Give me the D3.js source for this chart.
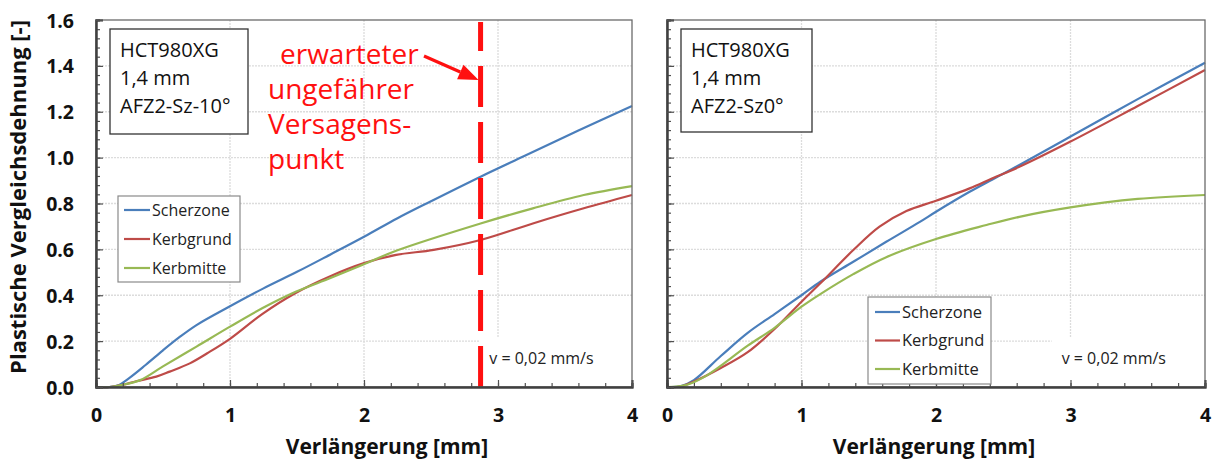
<!DOCTYPE html>
<html>
<head>
<meta charset="utf-8">
<script src="https://cdn.jsdelivr.net/npm/d3@7"></script>
<style>
  body { margin: 0; background: #fff; }
  svg { display: block; font-family: "Open Sans", "Noto Sans", sans-serif; }
</style>
</head>
<body>
<svg id="chart" width="1216" height="459"></svg>
<script>
// Elongation (mm) / equivalent plastic strain pairs per measuring zone
const leftScherzone = [[0,0],[0.1,0],[0.16,0.006],[0.25,0.04],[0.37,0.096],[0.5,0.16],[0.62,0.216],[0.75,0.27],[1.0,0.352],[1.25,0.43],[1.5,0.502],[1.75,0.578],[2.0,0.655],[2.25,0.736],[2.5,0.81],[2.87,0.917],[3.2,1.008],[3.6,1.118],[4.0,1.225]];
const leftKerbgrund = [[0,0],[0.1,0],[0.2,0.01],[0.3,0.025],[0.45,0.045],[0.55,0.067],[0.7,0.103],[0.83,0.147],[1.0,0.21],[1.24,0.318],[1.49,0.41],[1.74,0.481],[2.0,0.54],[2.24,0.576],[2.52,0.598],[2.87,0.641],[3.26,0.713],[3.64,0.779],[4.0,0.837]];
const leftKerbmitte = [[0,0],[0.1,0],[0.2,0.01],[0.33,0.03],[0.5,0.09],[0.75,0.176],[1.0,0.263],[1.24,0.343],[1.49,0.415],[1.75,0.475],[2.0,0.535],[2.24,0.594],[2.87,0.713],[3.26,0.779],[3.64,0.837],[4.0,0.876]];

const rightScherzone = [[0,0],[0.1,0.003],[0.2,0.03],[0.4,0.135],[0.6,0.236],[0.8,0.318],[1.0,0.4],[1.14,0.459],[1.385,0.546],[1.63,0.633],[1.88,0.72],[2.0,0.764],[2.25,0.851],[2.42,0.905],[2.62,0.968],[3.0,1.092],[3.5,1.255],[4.0,1.414]];
const rightKerbgrund = [[0,0],[0.1,0.002],[0.2,0.024],[0.4,0.083],[0.6,0.152],[0.8,0.253],[1.0,0.372],[1.14,0.452],[1.385,0.597],[1.58,0.699],[1.78,0.767],[2.0,0.812],[2.25,0.866],[2.42,0.91],[2.62,0.96],[3.0,1.07],[3.5,1.225],[4.0,1.382]];
const rightKerbmitte = [[0,0],[0.15,0.01],[0.3,0.052],[0.6,0.18],[0.8,0.258],[1.0,0.35],[1.14,0.405],[1.385,0.492],[1.63,0.566],[2.0,0.645],[2.375,0.706],[2.62,0.742],[3.0,0.783],[3.5,0.82],[4.0,0.837]];

const seriesNames = ["Scherzone", "Kerbgrund", "Kerbmitte"];
const seriesColors = ["#4A7EBB", "#BE4B48", "#98B954"];
const xTicks = [0, 1, 2, 3, 4];
const yTicks = [0, 0.2, 0.4, 0.6, 0.8, 1.0, 1.2, 1.4, 1.6];
const leftInfo = ["HCT980XG", "1,4 mm", "AFZ2-Sz-10°"];
const rightInfo = ["HCT980XG", "1,4 mm", "AFZ2-Sz0°"];
const speedLabel = "v = 0,02 mm/s";
const failureX = 2.87;
const failureText = ["erwarteter", "ungefährer", "Versagens-", "punkt"];

const svg = d3.select("#chart");

function drawPanel(opt) {
  const x = d3.scaleLinear().domain([0, 4]).range([opt.left, opt.right]);
  const y = d3.scaleLinear().domain([0, 1.6]).range([opt.bottom, opt.top]);
  const g = svg.append("g");

  // grid
  g.append("g").selectAll("line").data(xTicks.slice(1, -1)).join("line")
    .attr("x1", d => x(d)).attr("x2", d => x(d))
    .attr("y1", opt.top).attr("y2", opt.bottom)
    .attr("stroke", "#dcdcdc").attr("stroke-width", 1.3).attr("stroke-dasharray", "2 1");
  g.append("g").selectAll("line").data(yTicks.slice(1, -1)).join("line")
    .attr("x1", opt.left).attr("x2", opt.right)
    .attr("y1", d => y(d)).attr("y2", d => y(d))
    .attr("stroke", "#dcdcdc").attr("stroke-width", 1.3).attr("stroke-dasharray", "2 1");

  // white patch behind the speed note
  const noteX = x(opt.noteX);
  g.append("rect").attr("x", noteX).attr("y", y(0.215))
    .attr("width", opt.right - noteX).attr("height", opt.bottom - y(0.215))
    .attr("fill", "#fff");

  // curves
  const line = d3.line().x(d => x(d[0])).y(d => Math.min(y(d[1]), opt.bottom))
    .curve(d3.curveCatmullRom.alpha(0.5));
  opt.series.forEach((s, i) => {
    g.append("path").datum(s).attr("d", line)
      .attr("fill", "none").attr("stroke", seriesColors[i]).attr("stroke-width", 2.2);
  });

  if (opt.extra) opt.extra(g, x, y);

  // speed note
  g.append("text").attr("x", x(opt.noteX) + opt.notePad).attr("y", y(0.1))
    .attr("font-size", 16).attr("fill", "#222").text(speedLabel);

  // frame
  g.append("rect").attr("x", opt.left).attr("y", opt.top)
    .attr("width", opt.right - opt.left).attr("height", opt.bottom - opt.top)
    .attr("fill", "none").attr("stroke", "#6a6a6a").attr("stroke-width", 1.3);

  // axes with inward ticks
  const xMinor = d3.range(0, 4.001, 0.2);
  const yMinor = d3.range(0, 1.6001, 0.04);
  const xAxis = d3.axisBottom(x).tickValues(xMinor).tickSize(-4).tickFormat("");
  const xAxisMaj = d3.axisBottom(x).tickValues(xTicks).tickSize(-7).tickPadding(21)
    .tickFormat(d3.format("d"));
  const yAxis = d3.axisLeft(y).tickValues(yMinor).tickSize(-4).tickFormat("");
  const yAxisMaj = d3.axisLeft(y).tickValues(yTicks).tickSize(-7).tickPadding(opt.showY ? 22 : 0)
    .tickFormat(opt.showY ? d3.format(".1f") : "");

  [xAxis, xAxisMaj].forEach(a => {
    const ax = g.append("g").attr("transform", `translate(0,${opt.bottom})`).call(a);
    ax.select(".domain").attr("stroke", "#404040").attr("stroke-width", 2);
    ax.selectAll(".tick line").attr("stroke", "#505050").attr("stroke-width", 1.2);
    ax.selectAll("text").attr("font-size", 19.5).attr("font-weight", 700)
      .attr("fill", "#111").attr("font-family", "Open Sans, sans-serif");
  });
  [yAxis, yAxisMaj].forEach(a => {
    const ax = g.append("g").attr("transform", `translate(${opt.left},0)`).call(a);
    ax.select(".domain").attr("stroke", "#404040").attr("stroke-width", 2);
    ax.selectAll(".tick line").attr("stroke", "#505050").attr("stroke-width", 1.2);
    ax.selectAll("text").attr("font-size", 19.5).attr("font-weight", 700)
      .attr("fill", "#111").attr("font-family", "Open Sans, sans-serif")
      .attr("dy", "0.36em");
  });

  // x axis title
  g.append("text").attr("x", opt.xTitleX).attr("y", 454)
    .attr("text-anchor", "middle").attr("font-size", 21).attr("font-weight", 700)
    .attr("fill", "#111").text("Verlängerung [mm]");

  // info box
  const ib = opt.infoBox;
  g.append("rect").attr("x", ib.x).attr("y", ib.y).attr("width", ib.w).attr("height", ib.h)
    .attr("fill", "#fff").attr("stroke", "#333").attr("stroke-width", 1.3);
  opt.info.forEach((t, i) => {
    g.append("text").attr("x", ib.x + 10).attr("y", ib.y + 28 + i * 28)
      .attr("font-size", 20).attr("fill", "#111").text(t);
  });

  // legend
  const lg = opt.legend;
  g.append("rect").attr("x", lg.x).attr("y", lg.y).attr("width", lg.w).attr("height", lg.h)
    .attr("fill", "#fff").attr("stroke", "#8a8a8a").attr("stroke-width", 1.2);
  seriesNames.forEach((n, i) => {
    const cy = lg.y + lg.first + i * lg.step;
    g.append("line").attr("x1", lg.x + lg.lx0).attr("x2", lg.x + lg.lx1)
      .attr("y1", cy).attr("y2", cy)
      .attr("stroke", seriesColors[i]).attr("stroke-width", 2.2);
    g.append("text").attr("x", lg.x + lg.lx1 + 2).attr("y", cy).attr("dy", "0.35em")
      .attr("font-size", lg.fs).attr("fill", "#222").text(n);
  });
}

drawPanel({
  left: 96, right: 632, top: 20, bottom: 387, showY: true,
  series: [leftScherzone, leftKerbgrund, leftKerbmitte],
  info: leftInfo, infoBox: { x: 110, y: 29, w: 138, h: 105 },
  legend: { x: 118, y: 196, w: 122, h: 86, first: 14, step: 29, lx0: 6, lx1: 32, fs: 16 },
  noteX: 2.86, notePad: 10, xTitleX: 387,
  extra: (g, x, y) => {
    const fx = x(failureX);
    // expected failure marker, dashes laid out from the bottom
    g.append("line").attr("x1", fx).attr("x2", fx)
      .attr("y1", y(0)).attr("y2", y(1.6) + 2)
      .attr("stroke", "#ff1010").attr("stroke-width", 5).attr("stroke-dasharray", "41 15");
    failureText.forEach((t, i) => {
      g.append("text").attr("x", i === 0 ? 280 : 268).attr("y", 64 + i * 35)
        .attr("font-size", 28).attr("fill", "#ff1010").text(t);
    });
    const tip = [fx - 2, 80], tail = [424, 56];
    const ang = Math.atan2(tip[1] - tail[1], tip[0] - tail[0]);
    const hl = 20, hw = 8;
    const base = [tip[0] - hl * Math.cos(ang), tip[1] - hl * Math.sin(ang)];
    g.append("line").attr("x1", tail[0]).attr("y1", tail[1])
      .attr("x2", base[0]).attr("y2", base[1])
      .attr("stroke", "#ff1010").attr("stroke-width", 3.2);
    g.append("path").attr("fill", "#ff1010").attr("d", d3.line()([
      tip,
      [base[0] + hw * Math.sin(ang), base[1] - hw * Math.cos(ang)],
      [base[0] - hw * Math.sin(ang), base[1] + hw * Math.cos(ang)]
    ]) + "Z");
  }
});

drawPanel({
  left: 667, right: 1205, top: 20, bottom: 387, showY: false,
  series: [rightScherzone, rightKerbgrund, rightKerbmitte],
  info: rightInfo, infoBox: { x: 681, y: 29, w: 131, h: 103 },
  legend: { x: 868, y: 297, w: 123, h: 87, first: 15, step: 28.5, lx0: 7, lx1: 32, fs: 16.5 },
  noteX: 2.86, notePad: 10, xTitleX: 934
});

// shared y axis title
svg.append("text").attr("transform", "translate(26,197) rotate(-90)")
  .attr("text-anchor", "middle").attr("font-size", 22).attr("font-weight", 700)
  .attr("fill", "#111").text("Plastische Vergleichsdehnung [-]");
</script>
</body>
</html>
